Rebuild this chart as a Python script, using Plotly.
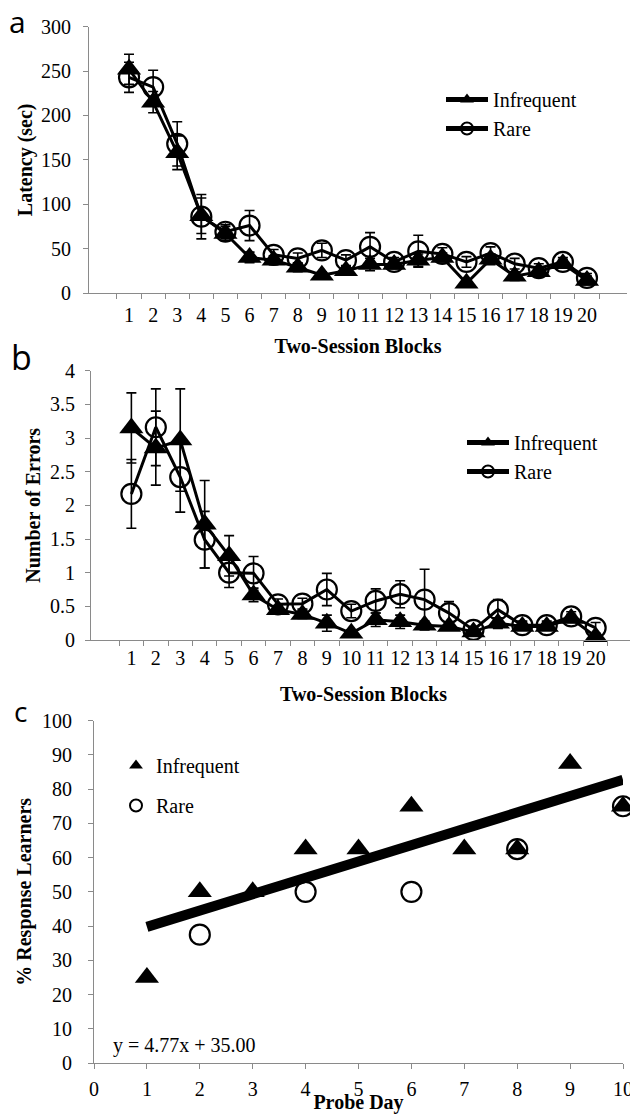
import numpy as np
import plotly.graph_objects as go

# page is 638x1114; the browser body has an 8px margin, so the figure is 630x1106
PAGE_OFF = 8
W, H = 638 - PAGE_OFF, 1114 - PAGE_OFF

# ---------------- data ----------------
blocks = [str(i) for i in range(1, 21)]

lat_infreq = [252, 215, 158, 87, 67, 40, 37, 29, 20, 25, 32, 32, 37, 40, 11, 38, 19, 24, 33, 14]
lat_infreq_err = [17, 12, 19, 20, 8, 6, 5, 5, 4, 5, 7, 5, 7, 5, 4, 6, 5, 4, 5, 5]
lat_rare = [243, 232, 168, 86, 69, 76, 43, 39, 48, 37, 52, 35, 47, 44, 35, 45, 33, 28, 35, 17]
lat_rare_err = [17, 19, 25, 25, 8, 17, 6, 6, 8, 6, 16, 5, 18, 7, 6, 7, 6, 5, 5, 5]

err_infreq = [3.15, 2.85, 2.97, 1.72, 1.25, 0.67, 0.45, 0.38, 0.25, 0.10, 0.30, 0.27, 0.22, 0.20, 0.12, 0.25, 0.20, 0.20, 0.32, 0.05]
err_infreq_se = [0.52, 0.55, 0.76, 0.65, 0.30, 0.10, 0.06, 0.06, 0.12, 0.05, 0.10, 0.10, 0.06, 0.05, 0.05, 0.08, 0.05, 0.05, 0.06, 0.04]
err_rare = [2.17, 3.16, 2.42, 1.49, 1.00, 0.99, 0.53, 0.54, 0.75, 0.43, 0.58, 0.68, 0.60, 0.40, 0.15, 0.45, 0.22, 0.22, 0.35, 0.18]
err_rare_se = [0.51, 0.57, 0.52, 0.42, 0.22, 0.25, 0.08, 0.08, 0.24, 0.10, 0.18, 0.20, 0.45, 0.17, 0.05, 0.15, 0.06, 0.06, 0.07, 0.08]

probe_days = [1, 2, 3, 4, 5, 6, 7, 8, 9, 10]
resp_infreq = [25, 50, 50, 62.5, 62.5, 75, 62.5, 62.5, 87.5, 75]
rare_days = [2, 4, 6, 8, 10]
resp_rare = [37.5, 50, 50, 62.5, 75]

# trendline fitted on the Infrequent series
slope, intercept = np.polyfit(probe_days, resp_infreq, 1)
trend_x = [min(probe_days), max(probe_days)]
trend_y = [slope * x + intercept for x in trend_x]

# ---------------- styling ----------------
SERIF = "Liberation Serif"
GRAY = "#8a8a8a"
BLACK = "black"


def px_x(p):
    """page pixel x -> paper fraction"""
    return (p - PAGE_OFF) / W


def px_y(p):
    """page pixel y -> paper fraction"""
    return 1 - (p - PAGE_OFF) / H


fig = go.Figure()

err_style = dict(type="data", color=BLACK, thickness=1.6, width=5)

# ---- panel a ----
fig.add_trace(go.Scatter(
    x=blocks, y=lat_rare, name="Rare", mode="lines+markers",
    line=dict(color=BLACK, width=3),
    marker=dict(symbol="circle-open", size=20, color=BLACK, line=dict(width=2.2)),
    error_y=dict(array=lat_rare_err, **err_style),
    xaxis="x", yaxis="y", legend="legend", legendrank=2, cliponaxis=False))
fig.add_trace(go.Scatter(
    x=blocks, y=lat_infreq, name="Infrequent", mode="lines+markers",
    line=dict(color=BLACK, width=3),
    marker=dict(symbol="triangle-up", size=21, color=BLACK),
    error_y=dict(array=lat_infreq_err, **err_style),
    xaxis="x", yaxis="y", legend="legend", legendrank=1, cliponaxis=False))

# ---- panel b ----
fig.add_trace(go.Scatter(
    x=blocks, y=err_rare, name="Rare", mode="lines+markers",
    line=dict(color=BLACK, width=3),
    marker=dict(symbol="circle-open", size=20, color=BLACK, line=dict(width=2.2)),
    error_y=dict(array=err_rare_se, **err_style),
    xaxis="x2", yaxis="y2", legend="legend2", legendrank=2, cliponaxis=False))
fig.add_trace(go.Scatter(
    x=blocks, y=err_infreq, name="Infrequent", mode="lines+markers",
    line=dict(color=BLACK, width=3),
    marker=dict(symbol="triangle-up", size=21, color=BLACK),
    error_y=dict(array=err_infreq_se, **err_style),
    xaxis="x2", yaxis="y2", legend="legend2", legendrank=1, cliponaxis=False))

# ---- panel c ----
fig.add_trace(go.Scatter(
    x=trend_x, y=trend_y, mode="lines", line=dict(color=BLACK, width=10),
    showlegend=False, xaxis="x3", yaxis="y3", hoverinfo="skip"))
fig.add_trace(go.Scatter(
    x=rare_days, y=resp_rare, name="Rare", mode="markers",
    marker=dict(symbol="circle-open", size=20, color=BLACK, line=dict(width=2.2)),
    xaxis="x3", yaxis="y3", legend="legend3", legendrank=2, legendgroup="r", cliponaxis=False))
fig.add_trace(go.Scatter(
    x=probe_days, y=resp_infreq, name="Infrequent", mode="markers",
    marker=dict(symbol="triangle-up", size=21, color=BLACK),
    xaxis="x3", yaxis="y3", legend="legend3", legendrank=1, legendgroup="i", cliponaxis=False))

tickfont = dict(family=SERIF, size=20, color=BLACK)
titlefont = dict(family=SERIF, size=20, color=BLACK, weight="bold")

axis_common = dict(showline=True, linecolor=GRAY, linewidth=1.2, ticks="outside",
                   tickcolor=GRAY, ticklen=5, tickwidth=1.2, showgrid=False,
                   zeroline=False, tickfont=tickfont, automargin=False, tickangle=0)

# domains (page-pixel based)
dom_a_x = [px_x(89), px_x(627)]
dom_a_y = [px_y(293), px_y(26.7)]
dom_b_x = [px_x(91), px_x(636)]
dom_b_y = [px_y(640), px_y(370.7)]
dom_c_x = [px_x(94), px_x(623)]
dom_c_y = [px_y(1063), px_y(720.7)]

legend_font = dict(family=SERIF, size=20, color=BLACK)

fig.update_layout(
    template="none",
    width=W, height=H,
    margin=dict(l=0, r=0, t=0, b=0, pad=0),
    paper_bgcolor="white", plot_bgcolor="white",
    font=dict(family=SERIF, color=BLACK, size=20),
    xaxis=dict(domain=dom_a_x, anchor="y", type="category", tickson="boundaries",
               tickmode="linear", dtick=1, ticklabelstandoff=4,
               title=dict(text="Two-Session Blocks", font=titlefont, standoff=13),
               **axis_common),
    yaxis=dict(domain=dom_a_y, anchor="x", range=[0, 300], dtick=50,
               ticklabelstandoff=8,
               title=dict(text="Latency (sec)", font=titlefont, standoff=2),
               **axis_common),
    xaxis2=dict(domain=dom_b_x, anchor="y2", type="category", tickson="boundaries",
                tickmode="linear", dtick=1, ticklabelstandoff=0,
                title=dict(text="Two-Session Blocks", font=titlefont, standoff=18),
                **axis_common),
    yaxis2=dict(domain=dom_b_y, anchor="x2", range=[0, 4], dtick=0.5,
                ticklabelstandoff=6,
                title=dict(text="Number of Errors", font=titlefont, standoff=3),
                **axis_common),
    xaxis3=dict(domain=dom_c_x, anchor="y3", range=[0, 10], dtick=1,
                ticklabelstandoff=3,
                title=dict(text="Probe Day", font=titlefont, standoff=3),
                **axis_common),
    yaxis3=dict(domain=dom_c_y, anchor="x3", range=[0, 100], dtick=10,
                ticklabelstandoff=12,
                title=dict(text="% Response Learners", font=titlefont, standoff=4),
                **axis_common),
    legend=dict(x=px_x(441), y=px_y(80), xanchor="left", yanchor="top",
                bgcolor="rgba(0,0,0,0)", font=legend_font, itemwidth=42,
                itemsizing="constant", tracegroupgap=0),
    legend2=dict(x=px_x(462), y=px_y(423), xanchor="left", yanchor="top",
                 bgcolor="rgba(0,0,0,0)", font=legend_font, itemwidth=42,
                 itemsizing="constant", tracegroupgap=0),
    legend3=dict(x=px_x(116), y=px_y(746), xanchor="left", yanchor="top",
                 bgcolor="rgba(0,0,0,0)", font=legend_font,
                 itemsizing="constant", tracegroupgap=11),
    showlegend=True,
)

letter_font = "Open Sans"
for txt, xc, yc, sz in [("a", 17.5, 21, 30), ("b", 21.5, 357, 34), ("c", 20, 711, 28)]:
    fig.add_annotation(text=txt, x=px_x(xc), y=px_y(yc), xref="paper", yref="paper",
                       xanchor="center", yanchor="middle", showarrow=False,
                       font=dict(family=letter_font, size=sz, color=BLACK))

fig.add_annotation(text=f"y = {slope:.2f}x + {intercept:.2f}",
                   x=px_x(111), y=px_y(1045), xref="paper", yref="paper",
                   xanchor="left", yanchor="middle", showarrow=False,
                   font=dict(family=SERIF, size=20, color=BLACK))

fig.write_html("out.html")
